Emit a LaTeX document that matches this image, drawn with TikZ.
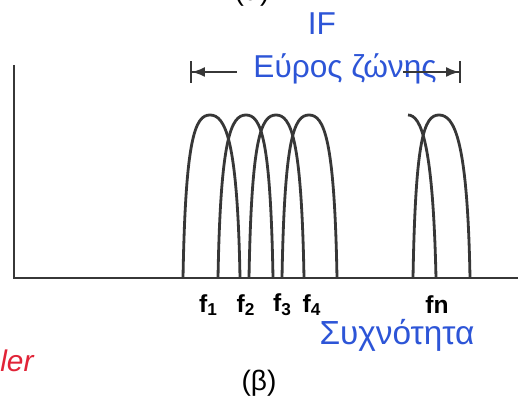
\documentclass[tikz,border=0pt]{standalone}
\usepackage{fontspec}
\setmainfont{Liberation Sans}
\definecolor{inkblue}{RGB}{45,85,215}
\definecolor{inkred}{RGB}{225,35,55}
\definecolor{pencil}{RGB}{55,55,55}
\usetikzlibrary{arrows.meta,positioning}

\begin{document}
\begin{tikzpicture}[
    axis/.style={line width=1.7pt,pencil},
    bandpass/.style={line width=1.6pt,pencil},
    handtext/.style={inkblue,font=\fontsize{18}{20}\selectfont,inner sep=1pt},
    flabel/.style={font=\bfseries\fontsize{14}{16}\selectfont,inner sep=1pt},
    dimline/.style={line width=1pt,pencil}
  ]
    \useasboundingbox (0,0) rectangle (10.36,7.96);

    % Axes
    \draw[axis] (0.28,6.66) -- (0.28,2.40) -- (10.36,2.40);

    % Filter passbands f1..f4 and fn
    \foreach \fl/\fp/\fr in {3.66/4.20/4.80, 4.36/4.92/5.46, 4.98/5.52/6.08, 5.64/6.18/6.74, 8.26/8.78/9.40}
      \draw[bandpass] (\fl,2.40) .. controls (\fl+0.05,5.2) and (\fp-0.30,5.66) .. (\fp,5.66)
                      .. controls (\fp+0.30,5.66) and (\fr-0.05,5.2) .. (\fr,2.40);

    % Tail of the passband before fn
    \draw[bandpass] (8.16,5.66) .. controls (8.42,5.66) and (8.66,5.1) .. (8.72,2.40);

    % Frequency labels
    \node[flabel] (fone)   at (4.17,1.86) {f\textsubscript{1}};
    \node[flabel] (ftwo)   at (4.92,1.86) {f\textsubscript{2}};
    \node[flabel] (fthree) at (5.65,1.86) {f\textsubscript{3}};
    \node[flabel] (ffour)  at (6.24,1.86) {f\textsubscript{4}};
    \node[flabel] (fn)     at (8.74,1.86) {fn};

    % IF bandwidth
    \node[handtext] (iflabel) at (6.44,7.48) {IF};
    \node[handtext] (bw) at (6.90,6.58) {Εύρος ζώνης};
    \coordinate (bwleft)  at (3.80,6.52);
    \coordinate (bwlin)   at (4.74,6.52);
    \coordinate (bwrin)   at (8.06,6.52);
    \coordinate (bwright) at (9.22,6.52);
    \draw[dimline,{Bar[width=4.4mm]Latex[length=2.6mm]}-] (bwleft) -- (bwlin);
    \draw[dimline,-{Latex[length=2.6mm]Bar[width=4.4mm]}] (bwrin) -- (bwright);

    % Axis caption and sub-figure labels
    \node[handtext,font=\fontsize{19}{21}\selectfont] (freq) at (7.94,1.26) {Συχνότητα};
    \node[font=\fontsize{16}{18}\selectfont] (beta) at (5.18,0.30) {(β)};
    \node[font=\fontsize{16}{18}\selectfont,anchor=base] (alpha) at (5.04,7.95) {(α)};
    \node[inkred,font=\itshape\fontsize{17}{19}\selectfont,anchor=west,inner sep=0pt] (fragment) at (0,0.74) {ler};
\end{tikzpicture}
\end{document}
